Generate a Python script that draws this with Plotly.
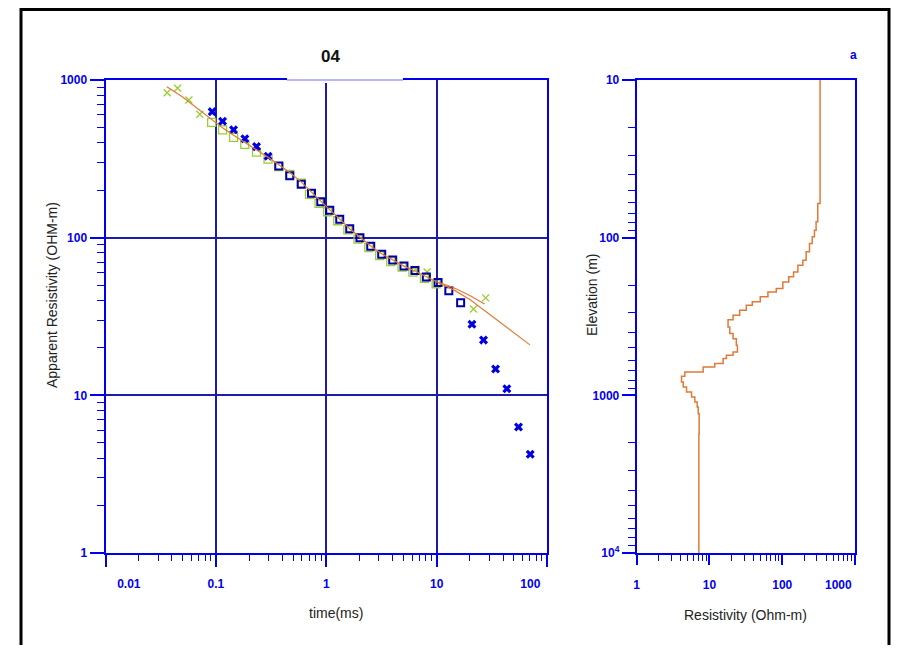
import plotly.graph_objects as go

# ---- left panel: TEM sounding "04" ----
# blue crosses (observed, rejected points)
bx_t = [0.0926, 0.115, 0.1446, 0.183, 0.2335, 0.297, 20.9, 26.6, 34.2, 43.3, 55.2, 70.5]
bx_rho = [630, 547, 484, 424, 378, 328, 28.2, 22.4, 14.7, 11.0, 6.3, 4.23]

# blue open squares (observed)
bs_t = [0.3716, 0.467, 0.594, 0.735, 0.892, 1.076, 1.325, 1.632, 2.02, 2.53,
        3.18, 4.0, 5.06, 6.36, 8.07, 10.3, 12.9, 16.5]
bs_rho = [285, 247, 218, 191, 169, 149, 131, 114, 100, 88.2,
          78.5, 72.2, 66.2, 61.8, 56.3, 52.0, 46.1, 38.7]

# green open squares (calculated)
gs_t = [0.0915, 0.115, 0.1446, 0.183, 0.2335, 0.297, 0.372, 0.467, 0.594, 0.705,
        0.86, 1.03, 1.27, 1.57, 1.94, 2.43, 3.05, 3.84, 4.86, 6.1, 7.75, 9.9]
gs_rho = [539, 482, 433, 391, 349, 315, 282, 252, 222, 188,
          165, 146, 128, 112, 98, 86.5, 77, 70.5, 65, 60.5, 55.3, 51]

# green crosses (calculated, other set)
gx_t = [0.0362, 0.045, 0.057, 0.0716, 6.46, 8.2, 21.6, 27.8]
gx_rho = [831, 886, 747, 606, 63.0, 60.6, 35.3, 41.5]

# model response curves
m1_t = [0.036, 0.05, 0.07, 0.0915, 0.115, 0.1446, 0.183, 0.2335, 0.297, 0.372,
        0.467, 0.594, 0.735, 0.892, 1.076, 1.325, 1.632, 2.02, 2.53, 3.18,
        4.0, 5.06, 6.36, 8.07, 10.3, 14, 20, 27.2]
m1_rho = [907, 780, 650, 560, 497, 446, 402, 360, 324, 290,
          259, 225, 194, 170, 150, 131, 114, 100.5, 88.5, 79,
          72, 66, 61.5, 56.3, 52, 48.5, 43, 38]
m2_t = [10.3, 14, 20, 27, 35, 45, 55, 70]
m2_rho = [52, 47, 40.5, 34.5, 30, 26.5, 23.5, 20.9]

# ---- right panel: layered resistivity model ----
layer_top = [10, 60.7, 79.3, 89.6, 98.8, 108.9, 123, 139, 149.5, 165,
             177, 191, 210, 221, 237, 255, 268, 289, 310, 331,
             368, 406, 437, 481, 531, 557, 585, 629, 661, 711,
             758, 823, 885, 952, 1025, 1102, 1186, 1308, 1750]
layer_res = [331, 308, 292, 277, 258, 237, 213, 192, 164, 143,
             123, 102, 82.8, 63.6, 49.9, 38.8, 32.1, 26.0, 21.1, 18.0,
             19.0, 21.1, 23.4, 24.2, 21.1, 17.1, 15.4, 11.8, 8.19, 4.59,
             4.13, 4.36, 4.84, 5.67, 6.30, 6.78, 7.0, 7.22, 7.15]
max_depth = 10000

NB = "&nbsp;"
time_ticks = [0.01, 0.1, 1, 10, 100]
time_labels = [NB * 14 + "0.01", "0.1", "1", "10", "100" + NB * 10]
rho_ticks = [1, 10, 100, 1000]
rho_labels = ["1", "10", "100", "1000"]
res_ticks = [1, 10, 100, 1000]
res_labels = ["1", "10", "100", "1000" + NB * 10]
elev_ticks = [10, 100, 1000, 10000]
elev_labels = ["10", "100", "1000", "10<sup>4</sup>"]

# page body has an 8px margin, so the figure is a bit smaller than the window
OFF = 8
W, H = 899 - 2 * OFF, 653 - 2 * OFF
BLUE = "#0000F0"
GRID = "#1c1ca8"
ORANGE = "#E07A38"
YG = "#9ACD32"
TICKFONT = dict(family="Liberation Sans, Arial", size=12, color=BLUE, weight="bold")


def px_x(p):
    return (p - OFF) / W


def px_y(p):
    return 1 - (p - OFF) / H


def minor_vals(e0, e1):
    return [m * 10 ** e for e in range(e0, e1) for m in range(2, 10)]


fig = go.Figure()

fig.add_trace(go.Scatter(x=gs_t, y=gs_rho, mode="markers",
                         marker=dict(symbol="square-open", size=8, color=YG, line=dict(width=1.3))))
fig.add_trace(go.Scatter(x=gx_t, y=gx_rho, mode="markers",
                         marker=dict(symbol="x-thin-open", size=7, color=YG, line=dict(width=1.3, color=YG))))
fig.add_trace(go.Scatter(x=bs_t, y=bs_rho, mode="markers",
                         marker=dict(symbol="square-open", size=7, color="#0000A8", line=dict(width=2))))
fig.add_trace(go.Scatter(x=bx_t, y=bx_rho, mode="markers",
                         marker=dict(symbol="x", size=8, color="#0000E0", line=dict(width=0))))
fig.add_trace(go.Scatter(x=m1_t, y=m1_rho, mode="lines", line=dict(color=ORANGE, width=1.2)))
fig.add_trace(go.Scatter(x=m2_t, y=m2_rho, mode="lines", line=dict(color=ORANGE, width=1.2)))

# staircase model
fig.add_trace(go.Scatter(x=layer_res + [layer_res[-1]], y=layer_top + [max_depth],
                         mode="lines", line=dict(color=ORANGE, width=1.5, shape="vh"),
                         xaxis="x2", yaxis="y2"))

common = dict(type="log", showline=True, linecolor=BLUE, linewidth=2, mirror=True,
              zeroline=False, tickmode="array", tickfont=TICKFONT, automargin=False,
              ticks="outside", tickcolor=BLUE, tickwidth=2)

fig.update_layout(
    width=W, height=H,
    margin=dict(l=0, r=0, t=0, b=0, pad=0),
    paper_bgcolor="white", plot_bgcolor="white",
    showlegend=False,
    xaxis=dict(common, domain=[px_x(105.5), px_x(547)], range=[-2, 2], anchor="y",
               tickvals=time_ticks, ticktext=time_labels, ticklen=12, ticklabelstandoff=7,
               showgrid=True, gridcolor=GRID, gridwidth=2,
               minor=dict(tickvals=minor_vals(-2, 2), ticks="outside", ticklen=6,
                          tickcolor=BLUE, tickwidth=1, showgrid=False)),
    yaxis=dict(common, domain=[px_y(553), px_y(80)], range=[0, 3], anchor="x",
               tickvals=rho_ticks, ticktext=rho_labels, ticklen=14, ticklabelstandoff=0,
               showgrid=True, gridcolor=GRID, gridwidth=2,
               minor=dict(tickvals=minor_vals(0, 3), ticks="outside", ticklen=7,
                          tickcolor=BLUE, tickwidth=1, showgrid=False)),
    xaxis2=dict(common, domain=[px_x(636.7), px_x(855)], range=[0, 3], anchor="y2",
                tickvals=res_ticks, ticktext=res_labels, ticklen=10, ticklabelstandoff=10,
                showgrid=False,
                minor=dict(tickvals=minor_vals(0, 3), ticks="outside", ticklen=6,
                           tickcolor=BLUE, tickwidth=1, showgrid=False)),
    yaxis2=dict(common, domain=[px_y(553), px_y(80)], range=[4, 1], anchor="x2",
                tickvals=elev_ticks, ticktext=elev_labels, ticklen=13, ticklabelstandoff=0,
                showgrid=False,
                minor=dict(tickvals=minor_vals(1, 4), ticks="outside", ticklen=7,
                           tickcolor=BLUE, tickwidth=1, showgrid=False)),
    xaxis3=dict(type="log", overlaying="x2", side="top", anchor="y2", range=[0, 3],
                tickmode="array", tickvals=[10, 100], ticks="inside", ticklen=8,
                tickwidth=2, tickcolor=BLUE, showticklabels=False, showline=False,
                showgrid=False, zeroline=False, automargin=False),
    yaxis3=dict(type="log", overlaying="y2", side="right", anchor="x2", range=[4, 1],
                tickmode="array", tickvals=[100, 1000], ticks="inside", ticklen=8,
                tickwidth=2, tickcolor=BLUE, showticklabels=False, showline=False,
                showgrid=False, zeroline=False, automargin=False),
)

label_font = dict(family="Liberation Sans, Arial", size=14, color="#222222")
ann = dict(xref="paper", yref="paper", showarrow=False, xanchor="center", yanchor="middle")
fig.add_annotation(ann, text="<b>04</b>", x=px_x(330), y=px_y(57),
                   font=dict(family="Liberation Sans, Arial", size=17, color="#111111"))
fig.add_annotation(ann, text="time(ms)", x=px_x(336), y=px_y(613), font=label_font)
fig.add_annotation(ann, text="Apparent Resistivity (OHM-m)", x=px_x(52), y=px_y(295),
                   textangle=-90, font=label_font)
fig.add_annotation(ann, text="Resistivity (Ohm-m)", x=px_x(745), y=px_y(615), font=label_font)
fig.add_annotation(ann, text="Elevation (m)", x=px_x(592), y=px_y(295),
                   textangle=-90, font=label_font)
fig.add_annotation(ann, text="a", x=px_x(853), y=px_y(55),
                   font=dict(family="Liberation Sans", size=12, color=BLUE, weight="bold"))

# outer black frame (top edge kept just inside the page margin)
fig.add_shape(type="rect", xref="paper", yref="paper",
              x0=px_x(21), x1=px_x(889), y0=px_y(665), y1=px_y(9.6),
              line=dict(color="black", width=3))
# title box interrupting the top border of the left panel
fig.add_shape(type="rect", xref="paper", yref="paper", layer="above",
              x0=px_x(287), x1=px_x(403), y0=px_y(83), y1=px_y(77),
              fillcolor="white", line=dict(width=0))
fig.add_shape(type="line", xref="paper", yref="paper", layer="above",
              x0=px_x(287), x1=px_x(403), y0=px_y(80), y1=px_y(80),
              line=dict(color="#7070ff", width=1))

fig.write_html("out.html")
